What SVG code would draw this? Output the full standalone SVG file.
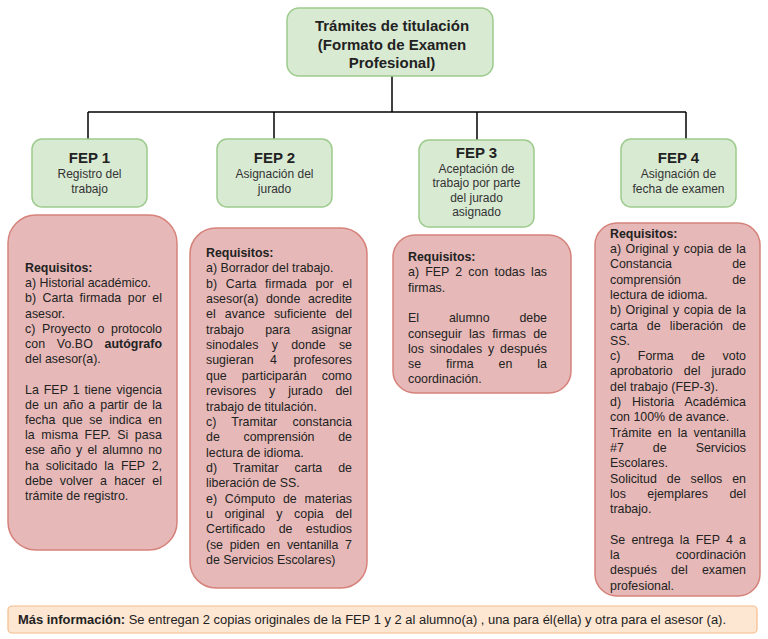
<svg xmlns="http://www.w3.org/2000/svg" width="768" height="639" viewBox="0 0 768 639">
<style>
.g{fill:#d9ead3;stroke:#9dcb8d;stroke-width:1.5}
.r{fill:#e6b9b8;stroke:#d6827b;stroke-width:1.5}
.bar{fill:#fde6d2;stroke:#f4bd8c;stroke-width:1.2}
text{font-family:"Liberation Sans",Arial,sans-serif;fill:#222}
.t{font-size:12.4px}
.b{font-weight:bold}
.ttl{font-size:15px;font-weight:bold;text-anchor:middle}
.h{font-size:15px;font-weight:bold;text-anchor:middle}
.s{font-size:12px;text-anchor:middle;fill:#333}
.e{text-anchor:end}
.ln{stroke:#000;stroke-width:1.5;fill:none}
</style>
<rect width="768" height="639" fill="#fff"/>
<g id="connectors">
<line class="ln" x1="392" y1="76" x2="392" y2="112"/>
<line class="ln" x1="88" y1="112" x2="686" y2="112"/>
<line class="ln" x1="88" y1="112" x2="88" y2="139"/>
<line class="ln" x1="274" y1="112" x2="274" y2="139"/>
<line class="ln" x1="477" y1="112" x2="477" y2="140"/>
<line class="ln" x1="686" y1="112" x2="686" y2="139"/>
</g>
<g id="root">
<rect class="g" x="287" y="8" width="206" height="68" rx="12"/>
<text class="ttl" x="392" y="31">Trámites de titulación</text>
<text class="ttl" x="392" y="49.5">(Formato de Examen</text>
<text class="ttl" x="392" y="68">Profesional)</text>
</g>
<g id="fep1">
<rect class="g" x="32" y="139" width="115" height="68" rx="10"/>
<text class="h" x="89.5" y="163">FEP 1</text>
<text class="s" x="89.5" y="178">Registro del</text>
<text class="s" x="89.5" y="193">trabajo</text>
</g>
<g id="fep2">
<rect class="g" x="217" y="139" width="115" height="68" rx="10"/>
<text class="h" x="274.5" y="163">FEP 2</text>
<text class="s" x="274.5" y="178">Asignación del</text>
<text class="s" x="274.5" y="193">jurado</text>
</g>
<g id="fep3">
<rect class="g" x="419" y="140" width="115" height="87" rx="10"/>
<text class="h" x="476.5" y="158">FEP 3</text>
<text class="s" x="476.5" y="172.5">Aceptación de</text>
<text class="s" x="476.5" y="187">trabajo por parte</text>
<text class="s" x="476.5" y="201.5">del jurado</text>
<text class="s" x="476.5" y="216">asignado</text>
</g>
<g id="fep4">
<rect class="g" x="621" y="139" width="115" height="68" rx="10"/>
<text class="h" x="678.5" y="163">FEP 4</text>
<text class="s" x="678.5" y="178">Asignación de</text>
<text class="s" x="678.5" y="193">fecha de examen</text>
</g>
<g id="req1">
<rect class="r" x="8" y="215" width="169" height="335" rx="28"/>
<text class="t b" x="25" y="272">Requisitos:</text>
<text class="t" x="25" y="287.2">a) Historial académico.</text>
<text class="t" x="25" y="302.4" textLength="137" lengthAdjust="spacing" word-spacing="2.98">b) Carta firmada por el</text>
<text class="t" x="25" y="317.6">asesor.</text>
<text class="t" x="25" y="332.8" textLength="137" lengthAdjust="spacing" word-spacing="3.17">c) Proyecto o protocolo</text>
<text class="t" x="25" y="348" textLength="137" lengthAdjust="spacing" word-spacing="8.2">con Vo.BO <tspan class="b">autógrafo</tspan></text>
<text class="t" x="25" y="363.2">del asesor(a).</text>
<text class="t" x="25" y="393.6" textLength="137" lengthAdjust="spacing" word-spacing="1.51">La FEP 1 tiene vigencia</text>
<text class="t" x="25" y="408.8" textLength="137" lengthAdjust="spacing" word-spacing="1.58">de un año a partir de la</text>
<text class="t" x="25" y="424" textLength="137" lengthAdjust="spacing" word-spacing="3.23">fecha que se indica en</text>
<text class="t" x="25" y="439.2" textLength="137" lengthAdjust="spacing" word-spacing="2.9">la misma FEP. Si pasa</text>
<text class="t" x="25" y="454.4" textLength="137" lengthAdjust="spacing" word-spacing="1.76">ese año y el alumno no</text>
<text class="t" x="25" y="469.6" textLength="137" lengthAdjust="spacing" word-spacing="3.41">ha solicitado la FEP 2,</text>
<text class="t" x="25" y="484.8" textLength="137" lengthAdjust="spacing" word-spacing="3.75">debe volver a hacer el</text>
<text class="t" x="25" y="500">trámite de registro.</text>
</g>
<g id="req2">
<rect class="r" x="190" y="228" width="177" height="360" rx="26"/>
<text class="t b" x="206" y="257">Requisitos:</text>
<text class="t" x="206" y="272.35">a) Borrador del trabajo.</text>
<text class="t" x="206" y="287.7" textLength="146" lengthAdjust="spacing" word-spacing="5.23">b) Carta firmada por el</text>
<text class="t" x="206" y="303.05" textLength="146" lengthAdjust="spacing" word-spacing="4.08">asesor(a) donde acredite</text>
<text class="t" x="206" y="318.4" textLength="146" lengthAdjust="spacing" word-spacing="5.7">el avance suficiente del</text>
<text class="t" x="206" y="333.75" textLength="146" lengthAdjust="spacing" word-spacing="17.86">trabajo para asignar</text>
<text class="t" x="206" y="349.1" textLength="146" lengthAdjust="spacing" word-spacing="9.84">sinodales y donde se</text>
<text class="t" x="206" y="364.45" textLength="146" lengthAdjust="spacing" word-spacing="13.04">sugieran 4 profesores</text>
<text class="t" x="206" y="379.8" textLength="146" lengthAdjust="spacing" word-spacing="11.66">que participarán como</text>
<text class="t" x="206" y="395.15" textLength="146" lengthAdjust="spacing" word-spacing="9.39">revisores y jurado del</text>
<text class="t" x="206" y="410.5">trabajo de titulación.</text>
<text class="t" x="206" y="425.85" textLength="146" lengthAdjust="spacing" word-spacing="11.68">c) Tramitar constancia</text>
<text class="t" x="206" y="441.2" textLength="146" lengthAdjust="spacing" word-spacing="20.27">de comprensión de</text>
<text class="t" x="206" y="456.55">lectura de idioma.</text>
<text class="t" x="206" y="471.9" textLength="146" lengthAdjust="spacing" word-spacing="12.38">d) Tramitar carta de</text>
<text class="t" x="206" y="487.25">liberación de SS.</text>
<text class="t" x="206" y="502.6" textLength="146" lengthAdjust="spacing" word-spacing="4.33">e) Cómputo de materias</text>
<text class="t" x="206" y="517.95" textLength="146" lengthAdjust="spacing" word-spacing="8.24">u original y copia del</text>
<text class="t" x="206" y="533.3" textLength="146" lengthAdjust="spacing" word-spacing="9.94">Certificado de estudios</text>
<text class="t" x="206" y="548.65" textLength="146" lengthAdjust="spacing" word-spacing="3.6">(se piden en ventanilla 7</text>
<text class="t" x="206" y="564">de Servicios Escolares)</text>
</g>
<g id="req3">
<rect class="r" x="393" y="235" width="178" height="158" rx="22"/>
<text class="t b" x="408" y="261">Requisitos:</text>
<text class="t" x="408" y="276.3" textLength="139" lengthAdjust="spacing" word-spacing="2.71">a) FEP 2 con todas las</text>
<text class="t" x="408" y="291.6">firmas.</text>
<text class="t" x="408" y="322.2" textLength="139" lengthAdjust="spacing" word-spacing="26.42">El alumno debe</text>
<text class="t" x="408" y="337.5" textLength="139" lengthAdjust="spacing" word-spacing="3.83">conseguir las firmas de</text>
<text class="t" x="408" y="352.8" textLength="139" lengthAdjust="spacing" word-spacing="2.45">los sinodales y después</text>
<text class="t" x="408" y="368.1" textLength="139" lengthAdjust="spacing" word-spacing="21.53">se firma en la</text>
<text class="t" x="408" y="383.4">coordinación.</text>
</g>
<g id="req4">
<rect class="r" x="595" y="223" width="165" height="373" rx="22"/>
<text class="t b" x="610" y="238">Requisitos:</text>
<text class="t" x="610" y="253" textLength="136" lengthAdjust="spacing" word-spacing="1.15">a) Original y copia de la</text>
<text class="t" x="610" y="268.3">Constancia</text>
<text class="t e" x="746" y="268.3">de</text>
<text class="t" x="610" y="283.6">comprensión</text>
<text class="t e" x="746" y="283.6">de</text>
<text class="t" x="610" y="298.9">lectura de idioma.</text>
<text class="t" x="610" y="314.2" textLength="136" lengthAdjust="spacing" word-spacing="1.15">b) Original y copia de la</text>
<text class="t" x="610" y="329.5" textLength="136" lengthAdjust="spacing" word-spacing="5.82">carta de liberación de</text>
<text class="t" x="610" y="344.8">SS.</text>
<text class="t" x="610" y="360.1" textLength="136" lengthAdjust="spacing" word-spacing="14.09">c) Forma de voto</text>
<text class="t" x="610" y="375.4" textLength="136" lengthAdjust="spacing" word-spacing="7.7">aprobatorio del jurado</text>
<text class="t" x="610" y="390.7">del trabajo (FEP-3).</text>
<text class="t" x="610" y="406" textLength="136" lengthAdjust="spacing" word-spacing="7.36">d) Historia Académica</text>
<text class="t" x="610" y="421.3">con 100% de avance.</text>
<text class="t" x="610" y="436.6" textLength="136" lengthAdjust="spacing" word-spacing="2.61">Trámite en la ventanilla</text>
<text class="t" x="610" y="451.9" textLength="136" lengthAdjust="spacing" word-spacing="25.6">#7 de Servicios</text>
<text class="t" x="610" y="467.2">Escolares.</text>
<text class="t" x="610" y="482.5" textLength="136" lengthAdjust="spacing" word-spacing="6.51">Solicitud de sellos en</text>
<text class="t" x="610" y="497.8" textLength="136" lengthAdjust="spacing" word-spacing="18.04">los ejemplares del</text>
<text class="t" x="610" y="513.1">trabajo.</text>
<text class="t" x="610" y="543.7" textLength="136" lengthAdjust="spacing" word-spacing="2.8">Se entrega la FEP 4 a</text>
<text class="t" x="610" y="559">la</text>
<text class="t e" x="746" y="559">coordinación</text>
<text class="t" x="610" y="574.3" textLength="136" lengthAdjust="spacing" word-spacing="10.8">después del examen</text>
<text class="t" x="610" y="589.6">profesional.</text>
</g>
<g id="info">
<rect class="bar" x="8" y="606" width="749" height="27" rx="4"/>
<text x="18" y="623.5" font-size="12" textLength="708" lengthAdjust="spacingAndGlyphs"><tspan class="b">Más información:</tspan> Se entregan 2 copias originales de la  FEP 1 y 2 al alumno(a) , una para él(ella)  y otra para el asesor (a).</text>
</g>
</svg>
